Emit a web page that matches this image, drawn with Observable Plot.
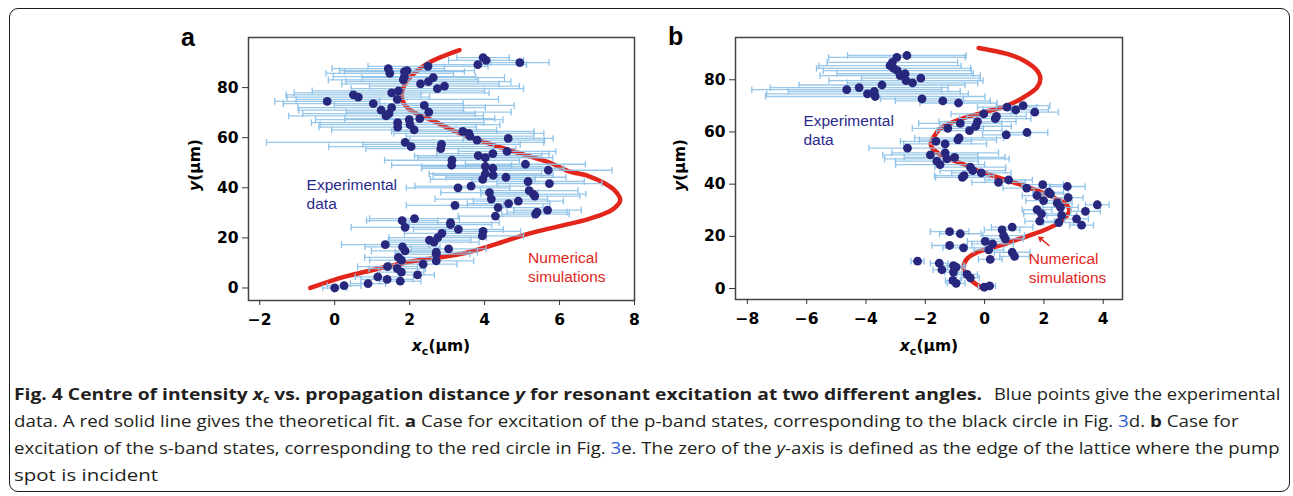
<!DOCTYPE html>
<html><head><meta charset="utf-8">
<script src="https://cdn.jsdelivr.net/npm/d3@7"></script>
<script src="https://cdn.jsdelivr.net/npm/@observablehq/plot@0.6"></script>
<style>
body{margin:0;background:#fff;}
#wrap{position:relative;width:1293px;height:496px;overflow:hidden;background:#fff;}
.frame{position:absolute;left:9px;top:8px;width:1279px;height:482px;border:1.5px solid #1a1a1a;border-radius:9px;}
.panel{position:absolute;top:0;}
.letter{position:absolute;font:bold 25px/25px "Liberation Sans",Arial,sans-serif;color:#000;}
.ylab{position:absolute;width:90px;height:20px;line-height:20px;text-align:center;font:bold 15.5px "DejaVu Sans",sans-serif;transform:rotate(-90deg);white-space:nowrap;color:#000;}
.xlab{position:absolute;width:120px;height:20px;line-height:20px;text-align:center;font:bold 15.5px "DejaVu Sans",sans-serif;white-space:nowrap;color:#000;}
.xlab sub{font-size:11px;vertical-align:-4px;line-height:0;}
.cap{position:absolute;left:14px;width:1270px;font:16.5px "Open Sans",sans-serif;color:#231f20;}
.ln{position:relative;height:27px;line-height:27px;white-space:nowrap;}
.ln .in{position:absolute;top:0;display:inline-block;white-space:nowrap;transform-origin:0 50%;}
.cap sub{font-size:11px;vertical-align:-3px;line-height:0;}
.lk{color:#2a5bd7;}
</style></head>
<body><div id="wrap">
<div class="frame"></div>
<div id="pa" class="panel" style="left:170px"></div>
<div id="pb" class="panel" style="left:655px"></div>
<div class="letter" style="left:181px;top:25px">a</div>
<div class="letter" style="left:668px;top:24px">b</div>
<div class="ylab" style="left:151px;top:155px"><i>y</i>(μm)</div>
<div class="ylab" style="left:636px;top:155px"><i>y</i>(μm)</div>
<div class="xlab" style="left:381px;top:337px"><i>x</i><sub>c</sub>(μm)</div>
<div class="xlab" style="left:869px;top:337px"><i>x</i><sub>c</sub>(μm)</div>
<div class="cap" style="top:380px">
<div class="ln"><span class="in" style="left:0" data-w="968"><b>Fig. 4 Centre of intensity <i>x<sub>c</sub></i> vs. propagation distance <i>y</i> for resonant excitation at two different angles.</b></span><span class="in" style="left:980px" data-w="286">Blue points give the experimental</span></div>
<div class="ln"><span class="in" style="left:0" data-w="1224">data. A red solid line gives the theoretical fit. <b>a</b> Case for excitation of the p-band states, corresponding to the black circle in Fig. <span class="lk">3</span>d. <b>b</b> Case for</span></div>
<div class="ln"><span class="in" style="left:0" data-w="1266">excitation of the s-band states, corresponding to the red circle in Fig. <span class="lk">3</span>e. The zero of the <i>y</i>-axis is defined as the edge of the lattice where the pump</span></div>
<div class="ln"><span class="in" style="left:0" data-w="144">spot is incident</span></div>
</div>
</div>
<script>
// ---------- Panel a data ----------
const aX = [0.00,0.25,0.89,1.15,1.40,1.75,2.21,1.41,1.67,1.78,1.70,1.78,2.36,2.71,2.71,2.71,3.04,1.35,1.81,1.88,2.53,2.65,2.75,2.86,3.94,3.96,1.80,1.88,2.13,3.09,3.09,3.30,4.29,5.36,5.40,5.68,3.21,4.36,4.64,4.90,4.18,5.19,5.30,5.34,4.13,3.29,3.64,3.95,4.57,5.16,5.73,4.02,4.23,4.02,4.22,5.09,5.70,3.13,3.12,3.83,4.02,4.22,4.60,4.63,3.80,3.42,3.58,3.61,2.85,2.83,1.88,2.04,1.68,1.68,2.01,2.12,1.99,2.27,2.51,2.39,1.37,1.45,1.52,1.24,1.03,0.50,0.63,-0.20,1.52,1.70,1.67,1.43,1.47,1.86,1.93,1.83,1.86,2.49,2.29,2.50,2.63,2.93,2.74,3.96,4.04,3.82,4.94];
const aY = [0.0,0.9,1.7,4.4,3.4,2.7,5.2,8.5,7.7,6.3,12.2,11.1,9.5,10.8,13.5,14.3,15.6,17.3,16.4,14.8,19.1,18.3,20.1,21.8,20.8,22.6,26.9,24.2,27.7,26.1,25.3,23.4,28.7,29.5,30.3,31.1,33.0,32.1,33.7,34.7,35.5,38.9,37.5,36.7,38.1,40.0,40.7,43.4,44.2,42.5,41.7,45.6,45.0,48.5,47.8,49.4,47.0,51.0,49.0,52.8,52.0,53.6,54.5,59.7,59.0,62.5,61.7,60.6,57.3,55.6,58.1,56.4,66.0,64.2,65.2,63.1,67.2,67.6,70.2,72.9,68.7,69.6,72.0,71.0,73.6,77.1,76.2,74.5,77.9,78.7,75.3,87.6,85.7,86.4,86.8,83.1,84.4,88.5,81.5,82.4,84.0,80.6,79.6,92.0,90.9,89.2,90.0];
const aErr = [0.32,0.45,0.47,0.6,0.7,0.55,0.45,0.8,0.75,0.6,0.9,0.85,0.9,1.0,0.9,1.1,1.0,1.17,1.0,0.9,1.1,1.2,1.3,1.0,1.1,1.0,0.95,1.44,1.2,1.3,1.1,1.2,1.0,0.9,0.8,0.9,1.3,1.2,1.1,1.2,1.5,1.3,1.4,1.2,1.3,1.38,1.5,1.4,1.6,1.5,1.4,1.5,1.6,1.7,1.9,1.6,1.7,1.8,1.6,1.7,1.8,1.5,1.3,1.2,1.8,1.9,2.0,1.7,2.1,2.0,3.7,2.2,2.3,2.1,2.4,2.2,2.5,2.0,2.2,2.4,2.6,2.3,2.5,2.2,2.4,1.8,1.9,1.4,2.6,2.3,2.7,1.5,1.7,1.6,1.8,2.0,1.9,1.6,2.1,2.2,1.9,2.0,2.3,0.7,1.0,1.3,0.78];
const aCurveX = [-0.65,0.25,0.96,2.0,3.38,4.3,5.16,5.95,6.77,7.25,7.48,7.62,7.48,7.2,6.77,6.23,5.75,5.16,4.5,3.91,3.25,2.66,2.2,1.95,1.82,1.79,1.86,2.12,2.57,3.33];
const aCurveY = [0,4.4,7.0,10.5,13.6,17.5,21.6,24.5,27.5,30.0,32.1,35.1,38.8,41.8,44.7,46.7,50.0,52.7,55.8,58.6,62.3,66.5,69.5,71.8,74.5,77.1,81.1,85.7,90.4,95.0];
const aXTicks = [-2,0,2,4,6,8];
const yTicks = [0,20,40,60,80];

// ---------- Panel b data ----------
const bX = [-4.65,-4.23,-3.95,-3.72,-3.69,-3.46,-3.19,-3.11,-2.96,-2.62,-3.07,-2.94,-2.85,-2.68,-2.65,-2.43,-2.15,-2.11,-1.41,-0.88,0.76,1.05,1.30,1.69,-0.03,0.36,0.40,-0.24,-0.30,-0.51,-0.82,-1.24,-0.86,-0.90,0.73,1.43,-1.64,-1.33,-2.60,-1.83,-1.33,-1.01,-1.27,-1.61,-1.50,-0.48,-0.40,-0.11,-0.75,-0.69,0.47,0.81,1.42,1.96,2.79,1.77,1.99,2.16,2.22,2.82,2.45,2.56,2.60,3.40,3.10,3.27,2.50,1.77,1.92,1.86,3.80,-1.18,-0.82,0.59,0.93,0.70,0.64,0.02,0.27,-1.18,-0.71,0.14,0.93,1.01,0.19,-2.26,-1.53,-1.44,-1.05,-0.96,-1.05,-1.07,-0.96,-0.59,-0.48,-0.01,0.17];
const bY = [76.2,77.0,74.6,75.5,73.6,78.0,85.4,86.7,88.6,89.3,84.4,83.5,81.6,82.3,79.7,78.8,80.6,72.7,71.9,71.1,69.5,68.5,70.1,67.6,66.9,65.1,66.0,64.0,62.2,60.5,63.3,61.4,57.7,57.0,58.9,59.8,56.4,55.4,53.8,51.2,52.0,50.3,49.7,48.8,47.5,46.5,45.2,44.3,42.6,43.3,40.7,41.6,38.5,39.8,39.1,35.6,33.7,36.9,36.3,34.8,32.7,31.1,28.0,29.6,26.7,24.3,25.3,30.2,28.6,25.8,32.1,21.8,21.0,22.5,23.5,19.0,20.3,18.1,17.1,16.5,15.6,14.8,13.9,12.3,11.2,10.5,9.7,7.2,8.8,8.2,6.3,3.1,2.0,5.4,4.1,0.5,1.0];
const bErr = [3.2,3.0,3.4,2.9,3.7,2.8,2.4,2.2,2.3,2.0,2.6,2.5,2.7,2.3,2.6,2.2,2.0,1.4,1.6,1.3,1.0,1.1,0.9,0.8,1.1,1.2,1.0,1.3,1.2,1.1,1.4,1.2,1.5,1.3,0.8,0.7,1.2,1.4,1.3,1.6,1.8,1.7,2.1,1.4,1.5,1.2,1.1,1.0,0.9,1.0,0.9,0.8,0.8,0.7,0.6,0.5,0.6,0.5,0.6,0.5,0.5,0.6,0.5,0.5,0.4,0.4,0.5,0.5,0.6,0.5,0.4,0.65,0.7,0.6,0.7,0.6,0.7,0.6,0.7,0.6,0.7,0.5,0.6,0.5,0.4,0.22,0.3,0.3,0.35,0.3,0.3,0.25,0.3,0.35,0.3,0.2,0.2];
const bCurveX = [-0.09,-0.42,-0.60,-0.71,-0.59,-0.22,0.53,1.0,1.5,2.1,2.55,2.78,2.86,2.75,2.4,1.95,1.43,0.8,0.25,-0.2,-0.75,-1.45,-1.78,-1.82,-1.72,-1.5,-0.93,-0.03,0.76,1.32,1.77,1.88,1.77,1.32,0.76,-0.2];
const bCurveY = [0.3,2.8,5.0,8.2,11.4,14.0,16.5,18.4,20.3,22.8,25.6,28.0,30.2,32.3,34.5,36.8,39.0,41.3,43.3,45.0,47.8,51.0,54.1,55.5,58.0,61.2,64.4,67.5,70.1,73.3,77.1,80.3,83.5,87.4,89.9,92.2];
const bXTicks = [-8,-6,-4,-2,0,2,4];

// labels
const expLabel = "Experimental\ndata";
const numLabel = "Numerical\nsimulations";

// ---------- drawing ----------
const vbar = {draw(ctx, size){const h = Math.sqrt(size/Math.PI); ctx.moveTo(0,-h); ctx.lineTo(0,h);}};
const RED = "#e2261c", BAR = "#8fc2e8", DOT = "#28277e", NAVY = "#2a2a8c";

function makePanel(cfg){
  const pts = cfg.xs.map((x,i)=>({x, y:cfg.ys[i], e:cfg.es[i]}));
  const curve = cfg.cx.map((x,i)=>({x, y:cfg.cy[i]}));
  const textOpts = {fontFamily:"Liberation Sans, Arial, sans-serif", fontWeight:"normal", fontSize:15.5, textAnchor:"start", lineAnchor:"middle", lineHeight:1.22};
  const marks = [
    Plot.line(curve, {x:"x", y:"y", stroke:RED, strokeWidth:4.5, curve:"catmull-rom"}),
    Plot.link(pts, {x1:d=>d.x-d.e, x2:d=>d.x+d.e, y1:"y", y2:"y", stroke:BAR, strokeWidth:1.3, strokeOpacity:0.9}),
    Plot.dot(pts, {x:d=>d.x-d.e, y:"y", symbol:vbar, r:3.3, fill:"none", stroke:BAR, strokeWidth:1.3}),
    Plot.dot(pts, {x:d=>d.x+d.e, y:"y", symbol:vbar, r:3.3, fill:"none", stroke:BAR, strokeWidth:1.3}),
    Plot.dot(pts, {x:"x", y:"y", r:4.4, fill:DOT, stroke:"none"}),
    Plot.text([cfg.exp], {x:"x", y:"y", text:()=>expLabel, fill:NAVY, ...textOpts}),
    Plot.text([cfg.num], {x:"x", y:"y", text:()=>numLabel, fill:RED, ...textOpts}),
    Plot.frame({stroke:"#444", strokeWidth:1.5}),
    Plot.axisX({ticks:cfg.xticks, tickSize:5, tickPadding:8, label:null, stroke:"#333"}),
    Plot.axisY({ticks:yTicks, tickSize:6, tickPadding:4, label:null, stroke:"#333"})
  ];
  if (cfg.arrow) marks.push(Plot.arrow([cfg.arrow], {x1:"x1", y1:"y1", x2:"x2", y2:"y2", stroke:RED, strokeWidth:1.5, headLength:7}));
  return Plot.plot({
    width:480, height:365,
    marginLeft:cfg.ml, marginRight:cfg.mr, marginTop:37, marginBottom:cfg.mb,
    x:{domain:cfg.xd}, y:{domain:cfg.yd},
    style:{fontFamily:"DejaVu Sans, sans-serif", fontWeight:"bold", fontSize:"15.5px", color:"#000", background:"transparent", overflow:"visible"},
    marks
  });
}

document.getElementById("pa").append(makePanel({
  xs:aX, ys:aY, es:aErr, cx:aCurveX, cy:aCurveY, xticks:aXTicks,
  xd:[-2.3,8], yd:[-5,100], ml:78, mr:16, mb:65,
  exp:{x:-0.75, y:37.7}, num:{x:5.16, y:8.7}
}));
document.getElementById("pb").append(makePanel({
  xs:bX, ys:bY, es:bErr, cx:bCurveX, cy:bCurveY, xticks:bXTicks,
  xd:[-8.4,4.65], yd:[-4.2,96.2], ml:80, mr:13, mb:66,
  exp:{x:-6.11, y:60.8}, num:{x:1.49, y:8.2},
  arrow:{x1:2.17, y1:16.5, x2:1.83, y2:19.7}
}));

// fit each caption run to the width it has in the reference
for (const s of document.querySelectorAll(".cap .in")) {
  const w = s.offsetWidth, target = +s.dataset.w;
  if (w > 0) s.style.transform = `scaleX(${target / w})`;
}
</script>
</body></html>
